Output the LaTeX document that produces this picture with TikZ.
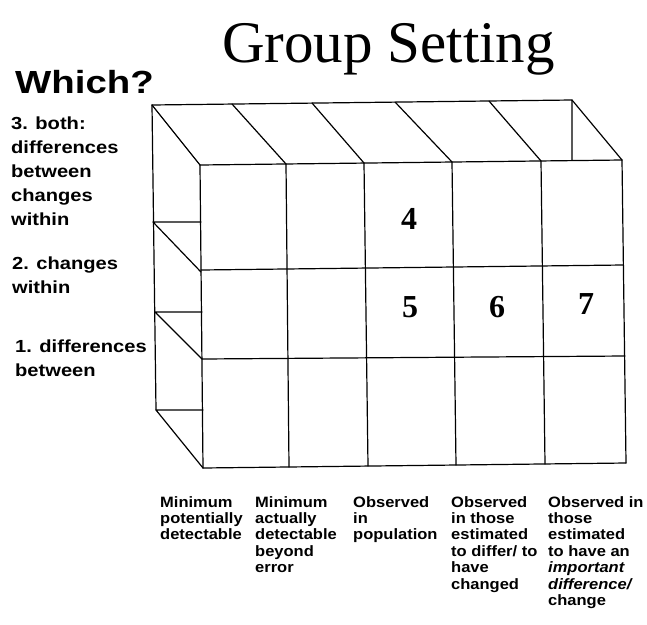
\documentclass[tikz,border=0pt]{standalone}
\usepackage{fontspec}
\usepackage{tikz}
\usetikzlibrary{positioning}

\newfontfamily\titlefont{Liberation Serif}
\newfontfamily\labelfont[FakeStretch=1.15]{Liberation Sans}
\newfontfamily\colfont[FakeStretch=1.1]{Liberation Sans}
\newfontfamily\whichfont[FakeStretch=1.2]{Liberation Sans}

\begin{document}
\begin{tikzpicture}[
    x=1pt, y=-1pt,
    edge/.style={line width=1.2pt, line cap=round, line join=round},
    rowlabel/.style={anchor=north west, inner sep=0pt, align=left,
        font=\labelfont\bfseries\fontsize{17.5}{24}\selectfont},
    collabel/.style={anchor=north west, inner sep=0pt, align=left,
        font=\colfont\bfseries\fontsize{15}{16.4}\selectfont},
    cellnum/.style={inner sep=0pt, font=\titlefont\bfseries\fontsize{32}{32}\selectfont}
]
\useasboundingbox (0,0) rectangle (647,624);

% titles
\node[anchor=base west, inner sep=0pt, font=\titlefont\fontsize{59}{59}\selectfont] (title) at (222,62) {Group Setting};
\node[anchor=base west, inner sep=0pt, font=\whichfont\bfseries\fontsize{32}{32}\selectfont] (which) at (15,93) {Which?};

% top face
\draw[edge] (152,105) -- (572,100) -- (572,160);
\foreach \xa/\ya/\xb/\yb in {152/105/200/165, 232/104/286/164, 312/103/364/163,
                             395/102/452/162, 489/101/541/161, 572/100/622/160}
    \draw[edge] (\xa,\ya) -- (\xb,\yb);

% left face
\draw[edge] (152,105) -- (156,410);
\foreach \xa/\ya/\xb/\yb in {153/222/201/272, 155/312/202/359, 156/410/203/468}
    \draw[edge] (\xb,\ya) -- (\xa,\ya) -- (\xb,\yb);

% front face
\foreach \xt/\yt/\xb/\yb in {200/165/203/468, 286/164/289/467, 364/163/368/466,
                             452/162/456/465, 541/161/545/464, 622/160/626/463}
    \draw[edge] (\xt,\yt) -- (\xb,\yb);
\foreach \xl/\yl/\xr/\yr in {200/165/622/160, 201/270/623/265,
                             202/359/625/356, 203/468/626/463}
    \draw[edge] (\xl,\yl) -- (\xr,\yr);

% cell numbers
\node[cellnum] (c4) at (409,219) {4};
\node[cellnum] (c5) at (410,307) {5};
\node[cellnum] (c6) at (497,307) {6};
\node[cellnum] (c7) at (586,304) {7};

% row labels
\node[rowlabel] (both) at (11,117) {3. both:\\differences\\between\\changes\\within};
\node[rowlabel] (within) at (12,257) {2. changes\\within};
\node[rowlabel] (between) at (15,340) {1. differences\\between};

% column labels
\node[collabel] (potential) at (160,496) {Minimum\\potentially\\detectable};
\node[collabel] (actual) at (255,496) {Minimum\\actually\\detectable\\beyond\\error};
\node[collabel] (population) at (353,496) {Observed\\in\\population};
\node[collabel] (changed) at (451,496) {Observed\\in those\\estimated\\to differ/ to\\have\\changed};
\node[collabel] (important) at (548,496) {Observed in\\those\\estimated\\to have an\\\textit{important}\\\textit{difference/}\\change};
\end{tikzpicture}
\end{document}
